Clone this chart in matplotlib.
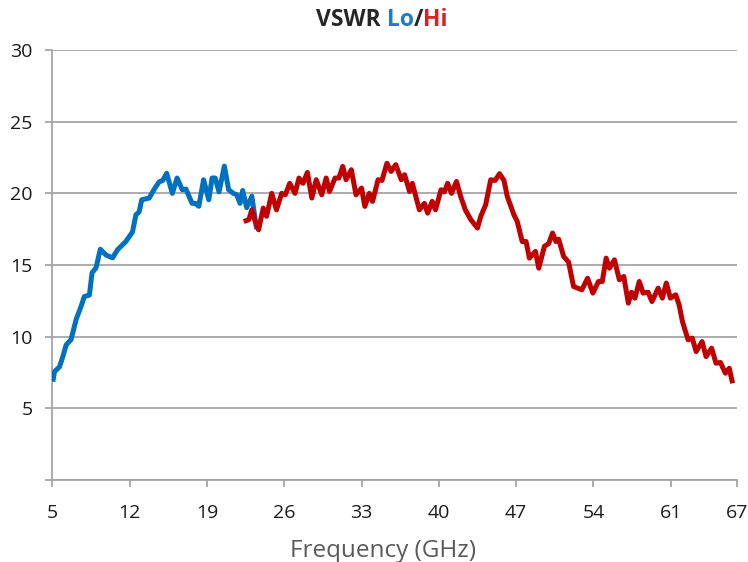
import matplotlib

matplotlib.use("Agg")
import matplotlib.pyplot as plt

# Lo band trace (GHz, VSWR)
lo_freq = [5.05, 5.2, 5.66, 5.95, 6.26, 6.7, 7.16, 7.6, 7.9, 8.36, 8.6, 8.96,
           9.35, 9.86, 10.46, 10.9, 11.66, 12.26, 12.57, 12.86, 13.1, 13.77,
           14.2, 14.67, 15.0, 15.36, 15.87, 16.3, 16.77, 17.1, 17.66, 17.95,
           18.27, 18.7, 19.17, 19.47, 19.75, 20.1, 20.58, 20.97, 21.4, 21.7,
           22.0, 22.24, 22.6, 23.07, 23.5]
lo_vswr = [6.86, 7.56, 7.9, 8.6, 9.43, 9.8, 11.2, 12.1, 12.8, 12.9, 14.45, 14.8,
           16.1, 15.7, 15.5, 16.06, 16.64, 17.3, 18.5, 18.7, 19.55, 19.67,
           20.25, 20.8, 20.9, 21.4, 20.0, 21.07, 20.25, 20.3, 19.3, 19.3,
           19.1, 20.95, 19.55, 21.07, 21.07, 20.1, 21.9, 20.25, 20.0, 19.9,
           19.3, 20.2, 19.0, 19.8, 17.5]

# Hi band trace (GHz, VSWR)
hi_freq = [22.33, 22.8, 23.07, 23.35, 23.68, 24.1, 24.4, 24.87, 25.3, 25.77,
           26.1, 26.5, 26.98, 27.34, 27.7, 28.1, 28.5, 28.9, 29.4, 29.8, 30.1,
           30.6, 30.95, 31.3, 31.6, 32.08, 32.5, 33.0, 33.3, 33.7, 34.0, 34.5,
           34.85, 35.3, 35.68, 36.1, 36.6, 36.9, 37.35, 37.6, 38.24, 38.7,
           38.99, 39.4, 39.7, 40.2, 40.5, 40.8, 41.15, 41.6, 41.98, 42.4, 42.9,
           43.5, 43.8, 44.24, 44.7, 45.1, 45.5, 45.9, 46.2, 46.8, 47.1, 47.55,
           47.9, 48.2, 48.75, 49.05, 49.56, 49.95, 50.3, 50.6, 50.85, 51.3,
           51.75, 52.2, 52.95, 53.47, 53.95, 54.46, 54.8, 55.15, 55.45, 55.9,
           56.35, 56.75, 57.16, 57.45, 57.76, 58.15, 58.5, 58.95, 59.3, 59.86,
           60.24, 60.6, 60.97, 61.45, 61.76, 62.06, 62.57, 62.95, 63.3, 63.84,
           64.2, 64.7, 65.1, 65.5, 65.95, 66.3, 66.6]
hi_vswr = [18.04, 18.16, 18.85, 18.1, 17.46, 18.97, 18.4, 20.0, 18.85, 20.0,
           19.9, 20.7, 20.0, 21.07, 20.7, 21.46, 19.67, 20.95, 19.9, 21.07,
           20.13, 21.07, 21.07, 21.88, 20.95, 21.65, 19.9, 20.37, 19.09, 20.0,
           19.44, 20.95, 20.9, 22.1, 21.53, 22.0, 20.95, 21.3, 20.13, 20.7,
           18.85, 19.3, 18.62, 19.44, 18.85, 20.25, 20.1, 20.7, 20.0, 20.83,
           19.78, 18.85, 18.16, 17.58, 18.4, 19.2, 20.95, 20.9, 21.37, 20.9,
           19.78, 18.5, 18.04, 16.64, 16.64, 15.48, 15.95, 14.78, 16.3, 16.5,
           17.23, 16.64, 16.8, 15.6, 15.2, 13.5, 13.27, 14.08, 13.04, 13.85,
           13.85, 15.48, 14.78, 15.36, 13.97, 14.2, 12.34, 13.1, 12.69, 13.85,
           13.04, 13.1, 12.45, 13.39, 12.69, 13.74, 12.69, 12.92, 12.22, 11.05,
           9.78, 9.9, 8.96, 9.66, 8.61, 9.2, 8.15, 8.2, 7.45, 7.8, 6.75]

x_ticks = [5, 12, 19, 26, 33, 40, 47, 54, 61, 67]
y_ticks = [0, 5, 10, 15, 20, 25, 30]
y_labels = ["", "5", "10", "15", "20", "25", "30"]

plt.rcParams["font.family"] = ["Open Sans", "DejaVu Sans"]

fig = plt.figure(figsize=(7.48, 5.62), dpi=100)
ax = fig.add_axes([0.0699, 0.1459, 0.9154, 0.7651])

grid_color = "#a6a6a6"
ax.plot(lo_freq, lo_vswr, color="#0070c0", lw=3.6, solid_capstyle="butt",
        solid_joinstyle="round", zorder=3)
ax.plot(hi_freq, hi_vswr, color="#c00000", lw=3.6, solid_capstyle="butt",
        solid_joinstyle="round", zorder=3)

ax.set_xlim(5, 67)
ax.set_ylim(0, 30)
ax.set_xticks(x_ticks)
ax.set_yticks(y_ticks)
ax.set_yticklabels(y_labels)
ax.yaxis.grid(True, color=grid_color, lw=1.3)
ax.set_axisbelow(True)
for side in ("top", "right"):
    ax.spines[side].set_visible(False)
for side in ("left", "bottom"):
    ax.spines[side].set_color(grid_color)
    ax.spines[side].set_linewidth(1.3)
ax.tick_params(axis="both", colors=grid_color, length=5, width=1.3,
               labelsize=14, labelcolor="#1a1a1a")
ax.tick_params(axis="x", pad=12)
ax.tick_params(axis="y", pad=9)

# axis label sits a little left of the plot centre, as in the source
fig.text(0.512, 0.0095, "Frequency (GHz)", fontsize=17.5, color="#595959",
         ha="center", va="baseline")

# two-colour title
t1 = fig.text(0.4225, 0.9537, "VSWR ", fontsize=16.5, fontweight="bold",
              color="#262626", va="baseline")
t2 = ax.annotate("Lo", xy=(1, 0), xycoords=t1, fontsize=16.5,
                 fontweight="bold", color="#1f7bc6", va="bottom")
t3 = ax.annotate("/", xy=(1, 0), xycoords=t2, fontsize=16.5,
                 fontweight="bold", color="#262626", va="bottom")
ax.annotate("Hi", xy=(1, 0), xycoords=t3, fontsize=16.5, fontweight="bold",
            color="#da2128", va="bottom")

fig.savefig("out.png", dpi=100)
plt.close(fig)
